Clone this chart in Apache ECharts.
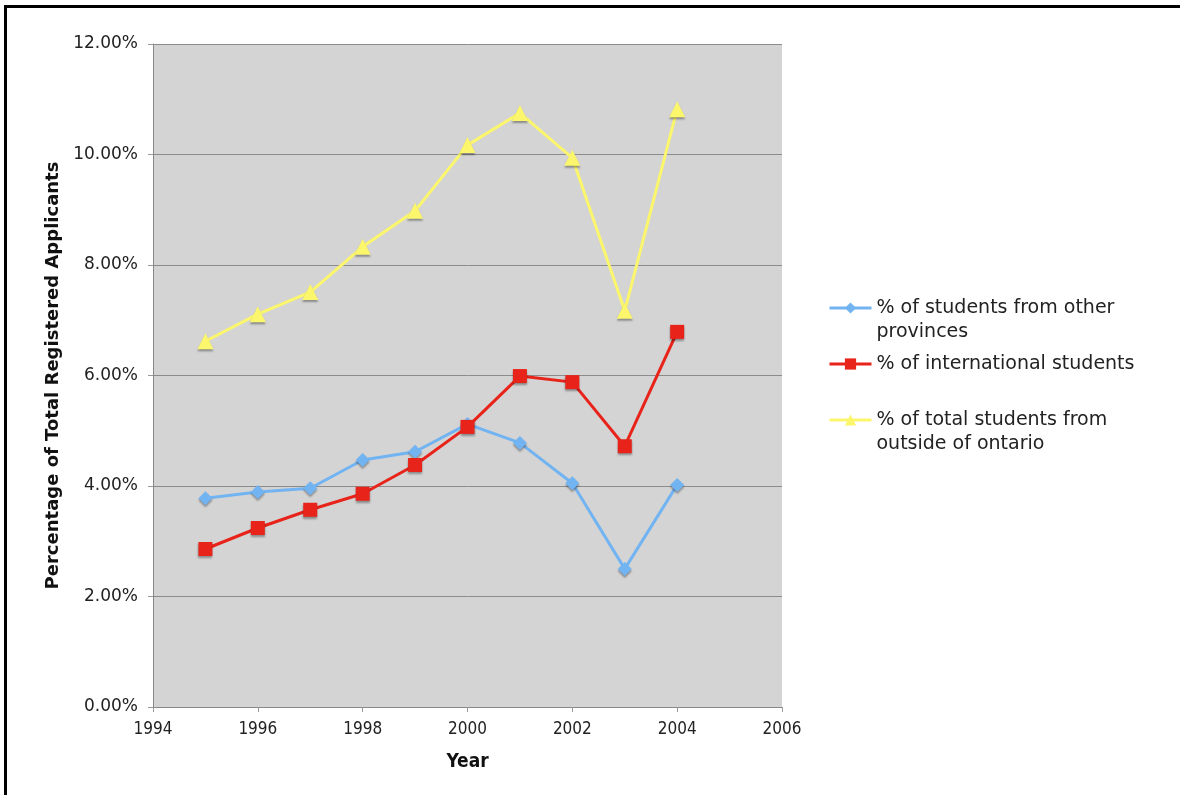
<!DOCTYPE html>
<html>
<head>
<meta charset="utf-8">
<title>Applicants from outside Ontario</title>
<script src="https://cdn.jsdelivr.net/npm/echarts@6/dist/echarts.min.js"></script>
<style>
  html, body { margin: 0; padding: 0; background: #fff; }
  #chart { width: 1180px; height: 795px; }
  #frame {
    position: absolute; left: 4px; top: 5px; right: 0; bottom: 0;
    border-left: 3px solid #000; border-top: 3px solid #000;
    pointer-events: none;
  }
</style>
</head>
<body>
<div id="chart"></div>
<div id="frame"></div>
<script>
// values, in percent
var years = [1995, 1996, 1997, 1998, 1999, 2000, 2001, 2002, 2003, 2004];
var otherProvinces = [3.78, 3.89, 3.96, 4.47, 4.62, 5.12, 4.78, 4.05, 2.50, 4.02];
var international = [2.86, 3.24, 3.57, 3.86, 4.38, 5.07, 5.99, 5.88, 4.72, 6.79];
var totalOutside = [6.62, 7.11, 7.51, 8.33, 8.98, 10.17, 10.75, 9.94, 7.17, 10.82];
var seriesNames = [
    '% of students from other provinces',
    '% of international students',
    '% of total students from outside of ontario'
];
// a blank first line keeps the legend marker beside the first text line
var legendLabels = [
    ' \n% of students from other\nprovinces',
    '% of international students',
    ' \n% of total students from\noutside of ontario'
];

function pairs(vals) {
    return years.map(function (y, i) { return [y, vals[i]]; });
}

var font = 'DejaVu Sans, Verdana, sans-serif';
var narrow = 'Liberation Sans Narrow, DejaVu Sans Condensed, Liberation Sans, sans-serif';
var markShadow = {
    shadowColor: 'rgba(0, 0, 0, 0.35)',
    shadowBlur: 2,
    shadowOffsetY: 2
};

function legendFor(i, top) {
    return {
        data: [seriesNames[i]],
        left: 828,
        top: top,
        padding: 0,
        itemWidth: 42,
        itemHeight: 14,
        lineStyle: { width: 3 },
        formatter: function () { return legendLabels[i]; },
        textStyle: {
            fontFamily: font,
            fontSize: 19,
            lineHeight: 24,
            color: '#222'
        }
    };
}

var myChart = echarts.init(document.getElementById('chart'));
myChart.setOption({
    backgroundColor: '#fff',
    animation: false,
    grid: {
        left: 153,
        top: 44,
        width: 629,
        height: 663,
        show: true,
        backgroundColor: '#d4d4d4',
        borderWidth: 0
    },
    legend: [
        legendFor(0, 272),
        legendFor(1, 352),
        legendFor(2, 384)
    ],
    xAxis: {
        type: 'value',
        min: 1994,
        max: 2006,
        interval: 2,
        name: 'Year',
        nameLocation: 'middle',
        nameGap: 46,
        nameTextStyle: {
            fontFamily: narrow,
            fontWeight: 'bold',
            fontSize: 19,
            color: '#111'
        },
        axisLine: { lineStyle: { color: '#888', width: 1 } },
        axisTick: { show: true, length: 5, lineStyle: { color: '#999' } },
        splitLine: { show: false },
        axisLabel: {
            margin: 14,
            fontFamily: narrow,
            fontSize: 17,
            color: '#222',
            formatter: function (v) { return String(v); }
        }
    },
    yAxis: {
        type: 'value',
        min: 0,
        max: 12,
        interval: 2,
        name: 'Percentage of Total Registered Applicants',
        nameLocation: 'middle',
        nameGap: 83,
        nameTextStyle: {
            fontFamily: font,
            fontWeight: 'bold',
            fontSize: 18,
            color: '#111'
        },
        axisLine: { show: true, lineStyle: { color: '#888', width: 1 } },
        axisTick: { show: true, length: 5, lineStyle: { color: '#999' } },
        splitLine: { show: true, lineStyle: { color: '#8c8c8c', width: 1 } },
        axisLabel: {
            margin: 15,
            fontFamily: font,
            fontSize: 17,
            color: '#222',
            formatter: function (v) { return v.toFixed(2) + '%'; }
        }
    },
    series: [
        {
            name: seriesNames[0],
            type: 'line',
            data: pairs(otherProvinces),
            symbol: 'diamond',
            symbolSize: 14,
            lineStyle: { color: '#72b4f2', width: 3 },
            itemStyle: Object.assign({ color: '#72b4f2' }, markShadow)
        },
        {
            name: seriesNames[1],
            type: 'line',
            data: pairs(international),
            symbol: 'rect',
            symbolSize: 14,
            lineStyle: { color: '#e8231a', width: 3 },
            itemStyle: Object.assign({ color: '#e8231a' }, markShadow)
        },
        {
            name: seriesNames[2],
            type: 'line',
            data: pairs(totalOutside),
            symbol: 'triangle',
            symbolSize: 16,
            lineStyle: { color: '#fbf66c', width: 3 },
            itemStyle: Object.assign({ color: '#fbf66c' }, markShadow)
        }
    ]
});
</script>
</body>
</html>
